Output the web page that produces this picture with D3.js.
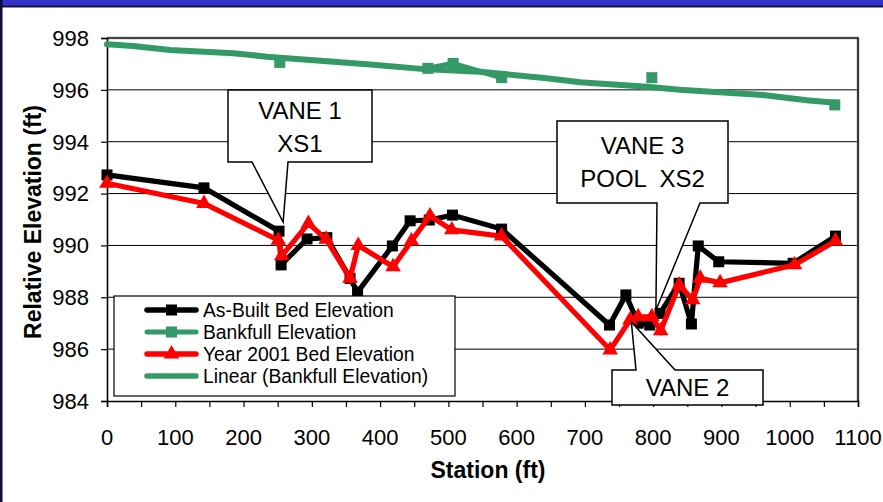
<!DOCTYPE html>
<html>
<head>
<meta charset="utf-8">
<script src="https://cdn.jsdelivr.net/npm/d3@7"></script>
<style>
  html, body { margin: 0; padding: 0; background: #fff; }
  svg { display: block; font-family: "Liberation Sans", Arial, sans-serif; }
</style>
</head>
<body>
<svg id="chart" width="883" height="502"></svg>
<script>
// ---------------- data ----------------
const asBuiltStation = [0, 142, 252, 255, 293, 322, 356, 367, 418, 444, 472, 506, 578, 736, 760, 778, 795, 810, 838, 856, 866, 896, 1005, 1067];
const asBuiltElev    = [992.72, 992.22, 990.55, 989.25, 990.25, 990.3, 988.73, 988.2, 989.98, 990.95, 990.98, 991.17, 990.63, 986.93, 988.09, 987.0, 986.93, 987.38, 988.54, 986.97, 989.98, 989.37, 989.31, 990.36];

const year2001Station = [0, 142, 251, 256, 295, 321, 356, 368, 419, 446, 473, 505, 578, 737, 766, 778, 798, 811, 838, 858, 869, 898, 1007, 1067];
const year2001Elev    = [992.4, 991.62, 990.2, 989.6, 990.85, 990.24, 988.73, 990.0, 989.18, 990.17, 991.14, 990.6, 990.36, 985.97, 987.12, 987.25, 987.25, 986.71, 988.47, 987.9, 988.73, 988.56, 989.25, 990.17];

// bankfull survey points (null = break in the connecting line)
const bankfullStation = [253, null, 470, 507, 578, null, 798, null, 1066];
const bankfullElev    = [997.06, null, 996.83, 997.02, 996.47, null, 996.47, null, 995.42];

// Linear (Bankfull Elevation) line as drawn
const trendStation = [0, 38, 92, 185, 234, 381, 469, 546, 644, 693, 791, 839, 961, 1025, 1066];
const trendElev    = [997.76, 997.69, 997.54, 997.41, 997.28, 996.99, 996.79, 996.7, 996.45, 996.29, 996.12, 996.0, 995.8, 995.6, 995.5];

const xTickValues = [0, 100, 200, 300, 400, 500, 600, 700, 800, 900, 1000, 1100];
const xMinorTicks = d3.range(0, 1101, 50);
const yTickValues = [984, 986, 988, 990, 992, 994, 996, 998];

const legendLabels = ["As-Built Bed Elevation", "Bankfull Elevation", "Year 2001 Bed Elevation", "Linear (Bankfull Elevation)"];
const calloutLabels = [["VANE 1", "XS1"], ["VANE 3", "POOL  XS2"], ["VANE 2"]];
const calloutTips = [{station: 258, elev: 990.9}, {station: 804, elev: 987.5}, {station: 768, elev: 987.05}];

// ---------------- setup ----------------
const COLORS = { black: "#000000", green: "#339966", red: "#ff0000" };
const svg = d3.select("#chart");
const W = 883, H = 502;
const plot = { left: 107, right: 858, top: 38, bottom: 401 };

const x = d3.scaleLinear().domain([0, 1100]).range([plot.left, plot.right]);
const y = d3.scaleLinear().domain([984, 998]).range([plot.bottom, plot.top]);

// frame (slide border)
svg.append("rect").attr("x", 0).attr("y", 0).attr("width", W).attr("height", H).attr("fill", "#ffffff");
svg.append("rect").attr("x", 0).attr("y", 0).attr("width", W).attr("height", 6).attr("fill", "#3333cc");
svg.append("rect").attr("x", 0).attr("y", 5.5).attr("width", W).attr("height", 2).attr("fill", "#141440");
svg.append("rect").attr("x", 0).attr("y", 0).attr("width", 2.5).attr("height", H).attr("fill", "#0d0d3a");

// gridlines
svg.append("g").selectAll("line").data(yTickValues.filter(v => v > 984 && v < 998)).join("line")
  .attr("x1", plot.left).attr("x2", plot.right)
  .attr("y1", d => y(d)).attr("y2", d => y(d))
  .attr("stroke", "#000").attr("stroke-width", 1);

// plot border top/right
svg.append("path")
  .attr("d", `M${plot.left},${plot.top} H${plot.right} V${plot.bottom}`)
  .attr("fill", "none").attr("stroke", "#8a8a8a").attr("stroke-width", 2.5);
svg.append("path")
  .attr("d", `M${plot.left},${plot.top} H${plot.right} V${plot.bottom}`)
  .attr("fill", "none").attr("stroke", "#000").attr("stroke-width", 1.2);

// axes
const xAxis = d3.axisBottom(x).tickValues(xMinorTicks).tickSize(6).tickFormat("");
const gx = svg.append("g").attr("transform", `translate(0,${plot.bottom})`).call(xAxis);
gx.select(".domain").attr("stroke", "#000").attr("stroke-width", 1.6);
gx.selectAll(".tick line").attr("stroke", "#000").attr("stroke-width", 1.2);

svg.append("g").selectAll("text").data(xTickValues).join("text")
  .attr("x", d => x(d)).attr("y", 445)
  .attr("text-anchor", "middle").attr("font-size", 22).attr("fill", "#000")
  .text(d => d);

const yAxis = d3.axisLeft(y).tickValues(yTickValues).tickSize(6).tickFormat("");
const gy = svg.append("g").attr("transform", `translate(${plot.left},0)`).call(yAxis);
gy.select(".domain").attr("stroke", "#000").attr("stroke-width", 1.6);
gy.selectAll(".tick line").attr("stroke", "#000").attr("stroke-width", 1.2);

svg.append("g").selectAll("text").data(yTickValues).join("text")
  .attr("x", 89).attr("y", d => y(d)).attr("dy", "0.36em")
  .attr("text-anchor", "end").attr("font-size", 22).attr("fill", "#000")
  .text(d => d);

// axis titles
svg.append("text").attr("x", 488).attr("y", 478).attr("text-anchor", "middle")
  .attr("font-size", 23).attr("font-weight", "bold").text("Station (ft)");
svg.append("text").attr("transform", "translate(41,222) rotate(-90)").attr("text-anchor", "middle")
  .attr("font-size", 23).attr("font-weight", "bold").text("Relative Elevation (ft)");

// ---------------- series ----------------
const zip = (xs, ys) => xs.map((s, i) => ({ s, e: ys[i] }));
const lineGen = d3.line().defined(d => d.s !== null && d.e !== null).x(d => x(d.s)).y(d => y(d.e));

const trend = zip(trendStation, trendElev);
const bankfull = zip(bankfullStation, bankfullElev);
const asBuilt = zip(asBuiltStation, asBuiltElev);
const yr2001 = zip(year2001Station, year2001Elev);

const LW = 5.2;
// trend line
svg.append("path").datum(trend).attr("d", lineGen)
  .attr("fill", "none").attr("stroke", COLORS.green).attr("stroke-width", 6)
  .attr("stroke-linejoin", "round").attr("stroke-linecap", "round");

// bankfull
svg.append("path").datum(bankfull).attr("d", lineGen)
  .attr("fill", "none").attr("stroke", COLORS.green).attr("stroke-width", LW)
  .attr("stroke-linejoin", "round");
const sq = 11;
svg.append("g").selectAll("rect").data(bankfull.filter(d => d.s !== null)).join("rect")
  .attr("x", d => x(d.s) - sq / 2).attr("y", d => y(d.e) - sq / 2)
  .attr("width", sq).attr("height", sq).attr("fill", COLORS.green);

// as-built
svg.append("path").datum(asBuilt).attr("d", lineGen)
  .attr("fill", "none").attr("stroke", COLORS.black).attr("stroke-width", LW)
  .attr("stroke-linejoin", "miter");
svg.append("g").selectAll("rect").data(asBuilt).join("rect")
  .attr("x", d => x(d.s) - sq / 2).attr("y", d => y(d.e) - sq / 2)
  .attr("width", sq).attr("height", sq).attr("fill", COLORS.black);

// year 2001
svg.append("path").datum(yr2001).attr("d", lineGen)
  .attr("fill", "none").attr("stroke", COLORS.red).attr("stroke-width", LW)
  .attr("stroke-linejoin", "miter");
const tri = d3.symbol().type(d3.symbolTriangle).size(105);
svg.append("g").selectAll("path").data(yr2001).join("path")
  .attr("transform", d => `translate(${x(d.s)},${y(d.e)})`)
  .attr("d", tri).attr("fill", COLORS.red);

// ---------------- callouts ----------------
function callout(box, wedge, tip, lines, lineYs) {
  const tx = x(tip.station), ty = y(tip.elev);
  let d;
  if (wedge.side === "bottom") {
    d = `M${box.x0},${box.y0} H${box.x1} V${box.y1} H${wedge.b} L${tx},${ty} L${wedge.a},${box.y1} H${box.x0} Z`;
  } else {
    d = `M${box.x0},${box.y0} H${wedge.a} L${tx},${ty} L${wedge.b},${box.y0} H${box.x1} V${box.y1} H${box.x0} Z`;
  }
  svg.append("path").attr("d", d).attr("fill", "#fff").attr("stroke", "#000").attr("stroke-width", 1.5);
  const cx = (box.x0 + box.x1) / 2;
  lines.forEach((t, i) => {
    svg.append("text").attr("x", cx).attr("y", lineYs[i]).attr("text-anchor", "middle")
      .attr("font-size", 24).attr("fill", "#000").style("white-space", "pre").text(t);
  });
}
callout({x0: 228, y0: 90, x1: 372, y1: 162}, {side: "bottom", a: 252, b: 288}, calloutTips[0], calloutLabels[0], [119, 152]);
callout({x0: 557, y0: 121, x1: 728, y1: 203}, {side: "bottom", a: 657, b: 700}, calloutTips[1], calloutLabels[1], [154, 187]);
callout({x0: 612, y0: 370, x1: 763, y1: 405}, {side: "top", a: 636, b: 675}, calloutTips[2], calloutLabels[2], [396]);

// ---------------- legend ----------------
const lg = svg.append("g");
lg.append("rect").attr("x", 114).attr("y", 296).attr("width", 341).attr("height", 100)
  .attr("fill", "#fff").attr("stroke", "#000").attr("stroke-width", 1.2);
const legendItems = [
  { color: COLORS.black, marker: "square", w: 5.5 },
  { color: COLORS.green, marker: "square", w: 5 },
  { color: COLORS.red, marker: "triangle", w: 5.5 },
  { color: COLORS.green, marker: null, w: 5.5 }
];
legendItems.forEach((it, i) => {
  const ly = 310 + i * 22;
  lg.append("line").attr("x1", 147).attr("x2", 196).attr("y1", ly).attr("y2", ly)
    .attr("stroke", it.color).attr("stroke-width", it.w).attr("stroke-linecap", "round");
  if (it.marker === "square") {
    lg.append("rect").attr("x", 171.5 - 5.5).attr("y", ly - 5.5).attr("width", 11).attr("height", 11).attr("fill", it.color);
  } else if (it.marker === "triangle") {
    lg.append("path").attr("transform", `translate(171.5,${ly})`).attr("d", tri).attr("fill", it.color);
  }
  lg.append("text").attr("x", 203).attr("y", ly).attr("dy", "0.36em")
    .attr("font-size", 19.3).attr("fill", "#000").text(legendLabels[i]);
});
</script>
</body>
</html>
